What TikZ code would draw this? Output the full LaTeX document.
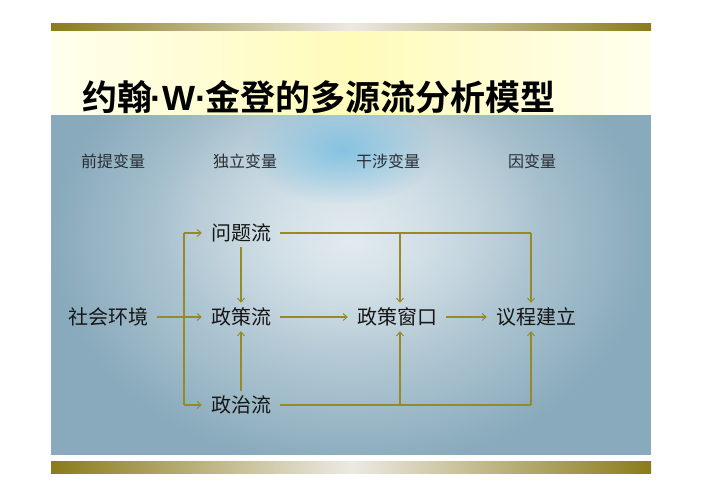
\documentclass[tikz,border=0pt]{standalone}
\usepackage{fontspec}
\setmainfont{Noto Sans CJK SC}
\newfontfamily\cjkb{Noto Sans CJK SC Bold}
\newfontfamily\latb{Liberation Sans Bold}
\usetikzlibrary{arrows.meta,fadings}
\tikzfading[name=softout, inner color=transparent!0, outer color=transparent!100]
\definecolor{olive}{RGB}{150,138,38}
\definecolor{barolive}{RGB}{138,124,26}
\definecolor{barlight}{RGB}{236,233,228}
\definecolor{slate}{RGB}{136,170,188}
\definecolor{haze}{RGB}{226,235,240}
\definecolor{glow}{RGB}{110,188,226}
\definecolor{cream}{RGB}{255,255,238}
\definecolor{paleyel}{RGB}{255,251,186}
\definecolor{ink}{RGB}{22,22,22}
\definecolor{hdink}{RGB}{40,45,50}
\tikzset{
  flow/.style={font=\fontsize{20}{24}\selectfont, text=ink, text height=16pt, text depth=2pt, inner xsep=9pt, inner ysep=5pt},
  hdr/.style={font=\fontsize{16}{19}\selectfont, text=hdink, text height=13pt, text depth=2pt, inner sep=0pt},
  link/.style={draw=olive, line width=1.1pt},
  arr/.style={link, -{Straight Barb[length=4pt,width=7pt,line width=1pt]}}
}
\begin{document}
\begin{tikzpicture}[x=1pt,y=-1pt]
\useasboundingbox (0,0) rectangle (702,496);
\fill[white] (0,0) rectangle (702,496);
% title area
\shade[left color=cream, right color=cream, middle color=paleyel] (51,30) rectangle (651,115);
% blue area
\begin{scope}
\clip (51,115) rectangle (651,455);
\fill[slate] (51,115) rectangle (651,455);
\fill[haze, path fading=softout] (350,240) ellipse [x radius=300, y radius=230];
\fill[haze, path fading=softout, opacity=0.5] (350,210) ellipse [x radius=200, y radius=140];
\fill[glow, path fading=softout, opacity=0.75] (342,150) ellipse [x radius=95, y radius=55];
\end{scope}
% bars
\shade[left color=barolive, right color=barolive, middle color=barlight] (51,23) rectangle (651,30);
\shade[left color=barolive, right color=barolive, middle color=barlight] (51,461) rectangle (651,473);
% title
\node[anchor=base west, inner sep=0pt, font=\cjkb\fontsize{35}{40}\selectfont, text=black] (title) at (82,110) {约翰{\latb\kern-1.5pt·W·\kern-1.5pt}金登的多源流分析模型};
% headers
\node[hdr] (h1) at (113,162) {前提变量};
\node[hdr] (h2) at (245,162) {独立变量};
\node[hdr] (h3) at (388,162) {干涉变量};
\node[hdr] (h4) at (532,162) {因变量};
% nodes
\node[flow] (sh) at (108,317) {社会环境};
\node[flow] (wt) at (241,233) {问题流};
\node[flow] (zc) at (241,317) {政策流};
\node[flow] (zz) at (241,405) {政治流};
\node[flow] (zw) at (397,317) {政策窗口};
\node[flow] (yc) at (536,317) {议程建立};
% helper columns
\coordinate (bx) at (184,0);
\coordinate (v1) at (400,0);
\coordinate (v2) at (531,0);
% connectors
\draw[link] (wt.west -| bx) -- (zz.west -| bx);
\draw[arr] (wt.west -| bx) -- (wt.west);
\draw[arr] (zz.west -| bx) -- (zz.west);
\draw[arr] (sh.east) -- (zc.west);
\draw[arr] (wt.south) -- (zc.north);
\draw[arr] (zz.north) -- (zc.south);
\draw[link] (wt.east) -- (wt.east -| v2);
\draw[arr] (wt.east -| v1) -- (v1 |- zw.north);
\draw[arr] (wt.east -| v2) -- (v2 |- yc.north);
\draw[link] (zz.east) -- (zz.east -| v2);
\draw[arr] (zz.east -| v1) -- (v1 |- zw.south);
\draw[arr] (zz.east -| v2) -- (v2 |- yc.south);
\draw[arr] (zc.east) -- (zw.west);
\draw[arr] (zw.east) -- (yc.west);
\end{tikzpicture}
\end{document}
